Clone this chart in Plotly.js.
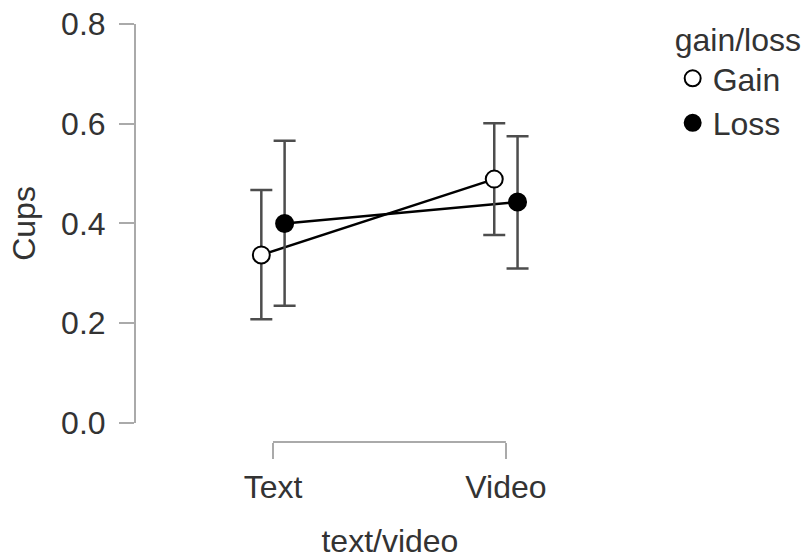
<!DOCTYPE html>
<html>
<head>
<meta charset="utf-8">
<script src="https://cdn.plot.ly/plotly-3.0.1.min.js"></script>
<style>html,body{margin:0;padding:0;background:#fff;}#chart{width:805px;height:559px;}</style>
</head>
<body>
<div id="chart"></div>
<script>
// Data
const categories = ['Text', 'Video'];
const groups = ['Gain', 'Loss'];
const gainMean = [0.337, 0.489];
const gainLow  = [0.208, 0.377];
const gainHigh = [0.467, 0.601];
const lossMean = [0.400, 0.443];
const lossLow  = [0.235, 0.310];
const lossHigh = [0.566, 0.575];
const yTicks = [0, 0.2, 0.4, 0.6, 0.8];
const yTickText = ['0.0', '0.2', '0.4', '0.6', '0.8'];

const dodge = 0.05;
const xIdx = categories.map((c, i) => i);
const font = {family: 'Liberation Sans, Arial, sans-serif', size: 32, color: '#333'};

function lineTrace(mean, offset) {
  return {
    type: 'scatter', mode: 'lines', showlegend: false,
    x: xIdx.map(i => i + offset), y: mean,
    line: {color: '#000', width: 2.5}
  };
}
function pointTrace(name, mean, low, high, offset, fill) {
  return {
    type: 'scatter', mode: 'markers', name: name,
    x: xIdx.map(i => i + offset), y: mean,
    marker: {symbol: 'circle', size: 17, color: fill, line: {color: '#000', width: 2}},
    error_y: {type: 'data', symmetric: false,
      array: high.map((h, i) => h - mean[i]),
      arrayminus: mean.map((m, i) => m - low[i]),
      color: '#4d4d4d', thickness: 2.5, width: 11},
    cliponaxis: false
  };
}

const traces = [
  lineTrace(gainMean, -dodge),
  lineTrace(lossMean, dodge),
  pointTrace(groups[0], gainMean, gainLow, gainHigh, -dodge, '#fff'),
  pointTrace(groups[1], lossMean, lossLow, lossHigh, dodge, '#000')
];

const layout = {
  width: 805, height: 559,
  margin: {l: 135, r: 0, t: 24, b: 117},
  paper_bgcolor: '#fff', plot_bgcolor: '#fff',
  font: font,
  showlegend: true,
  legend: {
    x: 0.8025, xanchor: 'left', y: 1.035, yanchor: 'top',
    title: {text: 'gain/loss', font: font},
    font: font, bgcolor: 'rgba(0,0,0,0)', tracegroupgap: 0
  },
  xaxis: {
    domain: [0.097, 0.664], range: [-0.3133, 1.3176],
    anchor: 'free', position: 0,
    tickvals: xIdx, ticktext: categories,
    ticks: 'outside', ticklen: 16, tickwidth: 2, tickcolor: '#aaa',
    ticklabelstandoff: 1,
    showline: false, showgrid: false, zeroline: false,
    title: {text: 'text/video', font: font, standoff: 26}
  },
  yaxis: {
    domain: [0.0455, 1], range: [0, 0.8],
    anchor: 'free', position: 0,
    tickvals: yTicks, ticktext: yTickText,
    ticks: 'outside', ticklen: 15, tickwidth: 2, tickcolor: '#aaa',
    ticklabelstandoff: 7,
    showline: true, linecolor: '#aaa', linewidth: 2,
    showgrid: false, zeroline: false,
    title: {text: 'Cups', font: font, standoff: 15}
  },
  shapes: [{type: 'line', xref: 'x', yref: 'paper',
    x0: xIdx[0], x1: xIdx[xIdx.length - 1], y0: 0, y1: 0,
    line: {color: '#aaa', width: 2}}]
};

Plotly.newPlot('chart', traces, layout, {staticPlot: true, displayModeBar: false});
</script>
</body>
</html>
